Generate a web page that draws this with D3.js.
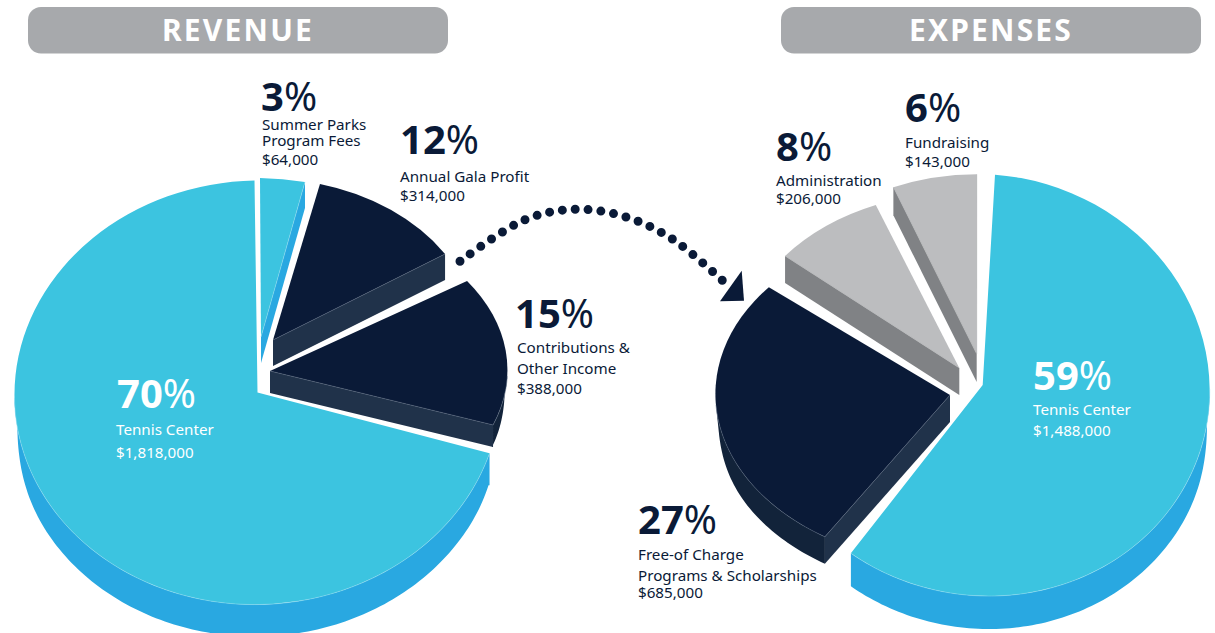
<!DOCTYPE html>
<html>
<head>
<meta charset="utf-8">
<script src="https://cdn.jsdelivr.net/npm/d3@7"></script>
<style>
  body { margin: 0; background: #fff; }
  text { font-family: "Noto Sans", sans-serif; }
</style>
</head>
<body>
<div id="vis"></div>
<script>
// values
var revenueNames = [["Summer Parks", "Program Fees"], ["Annual Gala Profit"], ["Contributions &", "Other Income"], ["Tennis Center"]];
var revenuePercents = [3, 12, 15, 70];
var revenueDollars = [64000, 314000, 388000, 1818000];

var expenseNames = [["Tennis Center"], ["Free-of Charge", "Programs & Scholarships"], ["Administration"], ["Fundraising"]];
var expensePercents = [59, 27, 8, 6];
var expenseDollars = [1488000, 685000, 206000, 143000];

var titles = ["REVENUE", "EXPENSES"];

// layout, kept apart from the values
var palette = {
    cyan: { top: "#3cc4e0", edge: "#29a8e1", rim: "#29a8e1", line: "#8fdcee" },
    navy: { top: "#0a1a37", edge: "#20324a", rim: "#12233a", line: "#5a6a80" },
    grey: { top: "#bcbdbf", edge: "#808285", rim: "#808285", line: "#a5a6a8" }
};
var navyInk = "#0a1a37";
var revenueColors = ["cyan", "navy", "navy", "cyan"];
var expenseColors = ["cyan", "navy", "grey", "grey"];
var revenueInk = [navyInk, navyInk, navyInk, "#fff"];
var expenseInk = ["#fff", navyInk, navyInk, navyInk];

// every slice is pulled out and squashed on its own: [xx, yx, xy, yy, centerX, centerY, depth]
var revenueShapes = [
    [240, 6, 1, 159, 261, 337, 26],
    [206.5, 10.5, -8.5, 160.8, 273, 340, 26],
    [237.3, 4.8, -8.6, 159.8, 270, 371, 22],
    [243, -5, 3, 212, 257.5, 392.5, 32]
];
var expenseShapes = [
    [227, 4, 2, 211, 982.7, 385, 33],
    [234, -10, 15.4, 168, 950, 395, 27],
    [225.3, -10.5, 14.6, 174.8, 959.3, 368, 27],
    [226, -12.2, 14.2, 179.3, 976.7, 354, 28]
];

// label anchors: [x of percent, baseline of percent, x of text, baselines of text lines]
var revenueLabels = [
    [261, 111, 262, [130, 146, 165]],
    [400, 154, 400, [182, 201]],
    [515, 328, 517, [353, 374, 394]],
    [117, 408, 116, [435, 458]]
];
var expenseLabels = [
    [1033, 390, 1033, [415, 436]],
    [638, 534, 638, [560, 581, 598]],
    [776, 161, 776, [186, 204]],
    [905, 122, 905, [148, 167]]
];

var width = 1215, height = 633;
var rimInset = 0.012; // lower outline sits a little inside the top one at the widest point
var money = d3.format("$,");

var svg = d3.select("#vis").append("svg")
    .attr("width", width)
    .attr("height", height)
    .style("display", "block");

var unitArc = d3.arc().innerRadius(0).outerRadius(1);
var plainLine = d3.line();

function place(m, angle, xScale) {
    var ux = Math.sin(angle) * (xScale || 1), uy = -Math.cos(angle);
    return [m[0] * ux + m[2] * uy + m[4], m[1] * ux + m[3] * uy + m[5]];
}

function edgePath(m, angle) {
    var p = place(m, angle), d = m[6];
    return plainLine([[m[4], m[5]], p, [p[0], p[1] + d], [m[4], m[5] + d]]) + "Z";
}

function drawPie(startDeg, percents, dollars, names, colors, inks, shapes, labels) {
    var start = startDeg * Math.PI / 180;
    var slices = d3.pie().sort(null).startAngle(start).endAngle(start + 2 * Math.PI)(percents);

    slices.forEach(function(s, i) {
        var m = shapes[i], c = palette[colors[i]];
        var g = svg.append("g");
        var hairlines = [];

        // outer wall, only the part that faces the viewer
        var from = Math.max(s.startAngle, Math.PI / 2), to = Math.min(s.endAngle, 3 * Math.PI / 2);
        if (to > from) {
            var angles = d3.range(from, to, 0.02).concat([to]);
            var upper = angles.map(function(a) { return place(m, a); });
            var lower = angles.map(function(a) {
                var p = place(m, a, 1 - rimInset * Math.pow(Math.abs(Math.sin(a)), 20));
                return [p[0], p[1] + m[6]];
            });
            // a cut end drops straight down
            if (from === s.startAngle) lower.unshift([upper[0][0], upper[0][1] + m[6]]);
            if (to === s.endAngle) lower.push([upper[upper.length - 1][0], upper[upper.length - 1][1] + m[6]]);
            g.append("path").attr("d", plainLine(upper.concat(lower.reverse())) + "Z").attr("fill", c.rim);
            hairlines.push(upper);
        }

        // cut walls
        [[s.startAngle, Math.sin(s.startAngle) < -0.01], [s.endAngle, Math.sin(s.endAngle) > 0.01]].forEach(function(e) {
            if (!e[1]) return;
            g.append("path").attr("d", edgePath(m, e[0])).attr("fill", c.edge);
            hairlines.push([[m[4], m[5]], place(m, e[0])]);
        });

        g.append("path")
            .attr("d", unitArc(s))
            .attr("transform", "matrix(" + m.slice(0, 6).join(",") + ")")
            .attr("fill", c.top);

        hairlines.forEach(function(h) {
            g.append("path")
                .attr("d", plainLine(h))
                .attr("fill", "none")
                .attr("stroke", c.line)
                .attr("stroke-width", 0.5);
        });
    });

    // labels go on last so no slice covers them
    slices.forEach(function(s, i) {
        var l = labels[i];
        var big = svg.append("text").attr("x", l[0]).attr("y", l[1]).attr("fill", inks[i]).style("font-size", "40px");
        big.append("tspan").style("font-weight", 700).text(percents[i]);
        big.append("tspan").text("%");

        names[i].concat([money(dollars[i])]).forEach(function(line, k) {
            svg.append("text")
                .attr("x", l[2])
                .attr("y", l[3][k])
                .attr("fill", inks[i])
                .style("font-size", "15.2px")
                .text(line);
        });
    });
}

drawPie(0, revenuePercents, revenueDollars, revenueNames, revenueColors, revenueInk, revenueShapes, revenueLabels);
drawPie(3.6, expensePercents, expenseDollars, expenseNames, expenseColors, expenseInk, expenseShapes, expenseLabels);

// header pills
[28, 781].forEach(function(x, i) {
    svg.append("rect")
        .attr("x", x).attr("y", 7)
        .attr("width", 420).attr("height", 46.5)
        .attr("rx", 13)
        .attr("fill", "#a7a9ac");
    svg.append("text")
        .attr("x", x + 210).attr("y", 41)
        .attr("text-anchor", "middle")
        .attr("fill", "#fff")
        .style("font-size", "30px")
        .style("font-weight", 700)
        .style("letter-spacing", "2.2px")
        .text(titles[i]);
});

// dotted arrow between the pies
var arrowLine = d3.line().curve(d3.curveCatmullRom.alpha(0.5));
var arrow = svg.append("path")
    .attr("d", arrowLine([[460, 261.3], [525, 219.7], [575, 209.3], [626, 217], [672.7, 239.3], [722.3, 280.3]]))
    .attr("fill", "none")
    .attr("stroke", navyInk)
    .attr("stroke-width", 9)
    .attr("stroke-linecap", "round");
arrow.attr("stroke-dasharray", "0 " + ((arrow.node().getTotalLength() - 0.5) / 23));

svg.append("path")
    .attr("d", "M741.7,270.7L720,301.3L744,300.7Z")
    .attr("fill", navyInk);
</script>
</body>
</html>
